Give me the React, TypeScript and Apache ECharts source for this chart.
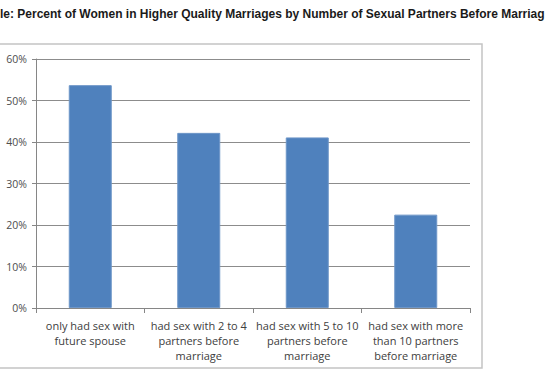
import React, { useEffect, useRef } from "react";
import * as echarts from "echarts";

const titleText = "le: Percent of Women in Higher Quality Marriages by Number of Sexual Partners Before Marriag";
const categories = [
  "only had sex with\nfuture spouse",
  "had sex with 2 to 4\npartners before\nmarriage",
  "had sex with 5 to 10\npartners before\nmarriage",
  "had sex with more\nthan 10 partners\nbefore marriage",
];
const values = [53.7, 42.2, 41.1, 22.5];
const yTicks = [0, 10, 20, 30, 40, 50, 60];

export default function App() {
  const ref = useRef<HTMLDivElement>(null);
  useEffect(() => {
    if (!ref.current) return;
    const chart = echarts.init(ref.current, null, { renderer: "svg" });
    chart.setOption({
      animation: false,
      backgroundColor: "#ffffff",
      graphic: [
        {
          type: "rect",
          shape: { x: -5, y: 44, width: 487, height: 324 },
          style: { fill: "none", stroke: "#c4c4c4", lineWidth: 1.5 },
          z: 0,
        },
        {
          type: "text",
          x: 0,
          y: 8,
          style: {
            text: titleText,
            font: "bold 12px 'Liberation Sans', Arial, sans-serif",
            fill: "#1a1a1a",
          },
        },
      ],
      grid: { left: 36, right: 85, top: 59, bottom: 62 },
      xAxis: {
        type: "category",
        data: categories,
        axisLine: { lineStyle: { color: "#868686", width: 1 } },
        axisTick: { show: true, length: 5, lineStyle: { color: "#868686" } },
        axisLabel: {
          interval: 0,
          color: "#404040",
          fontSize: 11,
          lineHeight: 15,
          margin: 10,
          fontFamily: "'Open Sans', sans-serif",
        },
      },
      yAxis: {
        type: "value",
        min: 0,
        max: 60,
        interval: 10,
        axisLine: { show: true, lineStyle: { color: "#868686", width: 1 } },
        axisTick: { show: true, length: 4, lineStyle: { color: "#868686" } },
        splitLine: { lineStyle: { color: "#8c8c8c", width: 1 } },
        axisLabel: {
          color: "#4d4d4d",
          fontSize: 10.5,
          margin: 9,
          fontFamily: "'Open Sans', sans-serif",
          formatter: (v: number) => (yTicks.includes(v) ? v + "%" : ""),
        },
      },
      series: [
        {
          type: "bar",
          data: values,
          barWidth: 43,
          itemStyle: { color: "#4f81bd", borderColor: "#6e96c8", borderWidth: 1 },
        },
      ],
    });
    return () => chart.dispose();
  }, []);
  return (
    <div
      ref={ref}
      style={{ position: "fixed", left: 0, top: 0, width: 555, height: 370, background: "#fff" }}
    />
  );
}
